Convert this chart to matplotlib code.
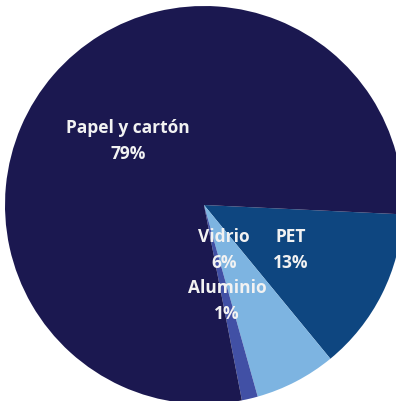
import matplotlib
matplotlib.use("Agg")
import matplotlib.pyplot as plt

categories = ["PET", "Vidrio", "Aluminio", "Papel y cartón"]
values = [13.3, 6.6, 1.3, 78.8]
pct_labels = ["13%", "6%", "1%", "79%"]
colors = ["#0e4680", "#7db4e1", "#4150a5", "#1b1850"]

W, H = 396, 401
fig = plt.figure(figsize=(W / 100, H / 100), dpi=100)
ax = fig.add_axes([0, 0, 1, 1])
cx, cy, r = 204, -205, 199
ax.pie(values, colors=colors, startangle=-2.7, counterclock=False,
       center=(cx, cy), radius=r, wedgeprops=dict(linewidth=0))
ax.set_xlim(0, W)
ax.set_ylim(-H, 0)
ax.set_aspect("equal")
ax.axis("off")

label_pos = {"Papel y cartón": (128, -141), "PET": (291, -250),
             "Vidrio": (224, -250), "Aluminio": (227, -301)}
for cat, p in zip(categories, pct_labels):
    x, y = label_pos[cat]
    ax.text(x, y, f"{cat}\n{p}", ha="center", va="center", color="#f2f2f2",
            fontsize=12.5, fontweight="bold", family="Open Sans",
            linespacing=1.62)

fig.savefig("out.png", dpi=100)
